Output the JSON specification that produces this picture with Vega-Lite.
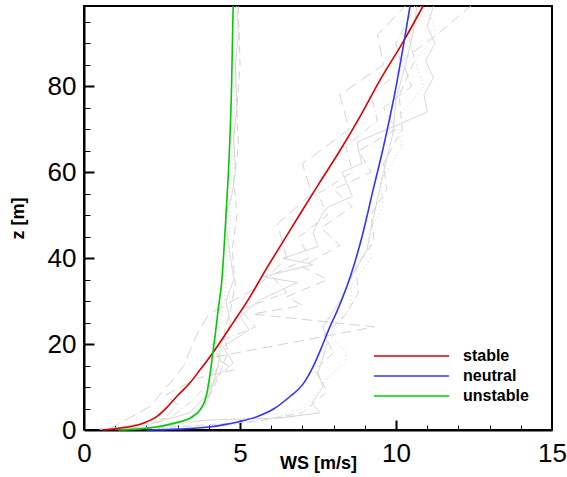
{
  "$schema": "https://vega.github.io/schema/vega-lite/v6.json",
  "width": 468,
  "height": 424,
  "autosize": {"type": "none"},
  "padding": {"left": 84, "top": 6, "right": 15, "bottom": 47},
  "background": "white",
  "config": {"view": {"stroke": "black", "strokeWidth": 2}, "font": "Liberation Sans"},
  "resolve": {"axis": {"x": "independent", "y": "independent"}},
  "datasets": {
    "main": [
      {"s":"stable","ws":0.6,"z":0},{"s":"stable","ws":1.0,"z":0.3},{"s":"stable","ws":1.5,"z":0.8},{"s":"stable","ws":1.9,"z":1.6},{"s":"stable","ws":2.33,"z":3.1},{"s":"stable","ws":2.65,"z":5.2},{"s":"stable","ws":2.97,"z":7.8},{"s":"stable","ws":3.4,"z":11},{"s":"stable","ws":3.72,"z":14},{"s":"stable","ws":4.13,"z":18},{"s":"stable","ws":4.78,"z":25},{"s":"stable","ws":5.32,"z":31},{"s":"stable","ws":5.8,"z":37},{"s":"stable","ws":6.35,"z":43.5},{"s":"stable","ws":6.9,"z":50},{"s":"stable","ws":7.5,"z":57},{"s":"stable","ws":8.2,"z":65},{"s":"stable","ws":8.85,"z":73},{"s":"stable","ws":9.5,"z":81.6},{"s":"stable","ws":10.2,"z":90},{"s":"stable","ws":10.87,"z":98.7},
      {"s":"neutral","ws":2.0,"z":0},{"s":"neutral","ws":3.0,"z":0.2},{"s":"neutral","ws":4.0,"z":0.7},{"s":"neutral","ws":4.46,"z":1.2},{"s":"neutral","ws":5.0,"z":2.0},{"s":"neutral","ws":5.54,"z":3.1},{"s":"neutral","ws":6.1,"z":5},{"s":"neutral","ws":6.6,"z":7.8},{"s":"neutral","ws":7.0,"z":10.5},{"s":"neutral","ws":7.34,"z":14.7},{"s":"neutral","ws":7.6,"z":19},{"s":"neutral","ws":7.88,"z":24},{"s":"neutral","ws":8.1,"z":27.5},{"s":"neutral","ws":8.3,"z":31},{"s":"neutral","ws":8.55,"z":36},{"s":"neutral","ws":8.91,"z":45},{"s":"neutral","ws":9.27,"z":56},{"s":"neutral","ws":9.6,"z":66},{"s":"neutral","ws":10.03,"z":81},{"s":"neutral","ws":10.25,"z":90},{"s":"neutral","ws":10.45,"z":98.7},
      {"s":"unstable","ws":1.1,"z":0},{"s":"unstable","ws":1.7,"z":0.2},{"s":"unstable","ws":2.33,"z":0.7},{"s":"unstable","ws":2.9,"z":1.6},{"s":"unstable","ws":3.4,"z":2.8},{"s":"unstable","ws":3.72,"z":4.7},{"s":"unstable","ws":3.94,"z":8.6},{"s":"unstable","ws":4.04,"z":13},{"s":"unstable","ws":4.13,"z":18},{"s":"unstable","ws":4.22,"z":23},{"s":"unstable","ws":4.3,"z":28},{"s":"unstable","ws":4.42,"z":35},{"s":"unstable","ws":4.55,"z":50},{"s":"unstable","ws":4.66,"z":65},{"s":"unstable","ws":4.73,"z":80},{"s":"unstable","ws":4.78,"z":98.7}
    ],
    "greyU": [
      {"s":"g1","ws":1.5,"z":0.3},{"s":"g1","ws":2.8,"z":1},{"s":"g1","ws":3.5,"z":3},{"s":"g1","ws":3.9,"z":6},{"s":"g1","ws":4.1,"z":10},{"s":"g1","ws":4.3,"z":15},{"s":"g1","ws":4.4,"z":20},{"s":"g1","ws":4.7,"z":25},{"s":"g1","ws":4.55,"z":30},{"s":"g1","ws":4.8,"z":35},{"s":"g1","ws":4.7,"z":40},{"s":"g1","ws":4.6,"z":45},{"s":"g1","ws":4.55,"z":50},{"s":"g1","ws":4.75,"z":55},{"s":"g1","ws":4.85,"z":60},{"s":"g1","ws":4.8,"z":68},{"s":"g1","ws":4.9,"z":75},{"s":"g1","ws":4.85,"z":85},{"s":"g1","ws":4.95,"z":92},{"s":"g1","ws":4.9,"z":98.7},
      {"s":"g2","ws":1.0,"z":0.2},{"s":"g2","ws":2.5,"z":0.8},{"s":"g2","ws":3.3,"z":2.5},{"s":"g2","ws":3.8,"z":5},{"s":"g2","ws":4.1,"z":9},{"s":"g2","ws":4.4,"z":14},{"s":"g2","ws":4.6,"z":18},{"s":"g2","ws":4.5,"z":23},{"s":"g2","ws":4.7,"z":28},{"s":"g2","ws":4.85,"z":34},{"s":"g2","ws":4.75,"z":42},{"s":"g2","ws":4.9,"z":50},{"s":"g2","ws":4.8,"z":58},{"s":"g2","ws":4.95,"z":66},{"s":"g2","ws":4.9,"z":75},{"s":"g2","ws":5.0,"z":85},{"s":"g2","ws":4.95,"z":98.7},
      {"s":"g3","ws":1.2,"z":0.2},{"s":"g3","ws":2.7,"z":0.9},{"s":"g3","ws":3.6,"z":3},{"s":"g3","ws":4.0,"z":7},{"s":"g3","ws":4.2,"z":12},{"s":"g3","ws":4.1,"z":17},{"s":"g3","ws":4.3,"z":22},{"s":"g3","ws":4.5,"z":30},{"s":"g3","ws":4.6,"z":40},{"s":"g3","ws":4.7,"z":50},{"s":"g3","ws":4.75,"z":60},{"s":"g3","ws":4.8,"z":70},{"s":"g3","ws":4.85,"z":80},{"s":"g3","ws":4.9,"z":90},{"s":"g3","ws":4.85,"z":98.7}
    ],
    "greyS": [
      {"s":"g4","ws":0.5,"z":0.2},{"s":"g4","ws":1.8,"z":0.7},{"s":"g4","ws":3.4,"z":4},{"s":"g4","ws":3.9,"z":8},{"s":"g4","ws":4.26,"z":12.4},{"s":"g4","ws":4.78,"z":15.6},{"s":"g4","ws":4.46,"z":19.4},{"s":"g4","ws":5.3,"z":23.3},{"s":"g4","ws":5.0,"z":26.5},{"s":"g4","ws":5.64,"z":30.3},{"s":"g4","ws":6.83,"z":34.3},{"s":"g4","ws":5.74,"z":35.7},{"s":"g4","ws":7.34,"z":38.5},{"s":"g4","ws":6.38,"z":40},{"s":"g4","ws":7.5,"z":42.7},{"s":"g4","ws":7.34,"z":46},{"s":"g4","ws":7.66,"z":50.6},{"s":"g4","ws":7.8,"z":51.8},{"s":"g4","ws":8.6,"z":54.4},{"s":"g4","ws":8.27,"z":60},{"s":"g4","ws":8.9,"z":62},{"s":"g4","ws":8.75,"z":67},{"s":"g4","ws":11.0,"z":74},{"s":"g4","ws":10.9,"z":78},{"s":"g4","ws":11.2,"z":82},{"s":"g4","ws":10.95,"z":86},{"s":"g4","ws":11.25,"z":90},{"s":"g4","ws":11.0,"z":94},{"s":"g4","ws":11.2,"z":98.7},
      {"s":"g5","ws":0.7,"z":0.3},{"s":"g5","ws":2.5,"z":2},{"s":"g5","ws":3.0,"z":6},{"s":"g5","ws":2.6,"z":8},{"s":"g5","ws":3.6,"z":12},{"s":"g5","ws":4.8,"z":14},{"s":"g5","ws":4.2,"z":17},{"s":"g5","ws":9.3,"z":24},{"s":"g5","ws":5.4,"z":27},{"s":"g5","ws":7.0,"z":29},{"s":"g5","ws":6.5,"z":31},{"s":"g5","ws":7.8,"z":35},{"s":"g5","ws":7.0,"z":38},{"s":"g5","ws":8.2,"z":43},{"s":"g5","ws":7.6,"z":47},{"s":"g5","ws":8.6,"z":52},{"s":"g5","ws":8.0,"z":56},{"s":"g5","ws":9.2,"z":60},{"s":"g5","ws":8.8,"z":65},{"s":"g5","ws":10.0,"z":70},{"s":"g5","ws":9.6,"z":75},{"s":"g5","ws":10.5,"z":80},{"s":"g5","ws":10.2,"z":86},{"s":"g5","ws":11.3,"z":92},{"s":"g5","ws":12.4,"z":98.7},
      {"s":"g6","ws":1.0,"z":0.3},{"s":"g6","ws":2.8,"z":3},{"s":"g6","ws":3.5,"z":7},{"s":"g6","ws":4.0,"z":11},{"s":"g6","ws":4.4,"z":16},{"s":"g6","ws":4.1,"z":20},{"s":"g6","ws":5.5,"z":24},{"s":"g6","ws":5.0,"z":28},{"s":"g6","ws":6.5,"z":32},{"s":"g6","ws":6.0,"z":36},{"s":"g6","ws":7.2,"z":40},{"s":"g6","ws":6.9,"z":45},{"s":"g6","ws":7.8,"z":50},{"s":"g6","ws":7.5,"z":55},{"s":"g6","ws":8.6,"z":60},{"s":"g6","ws":8.4,"z":66},{"s":"g6","ws":9.4,"z":72},{"s":"g6","ws":9.2,"z":78},{"s":"g6","ws":10.2,"z":84},{"s":"g6","ws":10.0,"z":90},{"s":"g6","ws":10.6,"z":98.7},
      {"s":"g7","ws":0.5,"z":0.2},{"s":"g7","ws":2.0,"z":0.6},{"s":"g7","ws":3.9,"z":2.3},{"s":"g7","ws":6.28,"z":2.8},{"s":"g7","ws":7.56,"z":4},{"s":"g7","ws":7.3,"z":6.3},{"s":"g7","ws":7.66,"z":10},{"s":"g7","ws":7.5,"z":13.3},{"s":"g7","ws":7.8,"z":20.3},{"s":"g7","ws":7.66,"z":24},{"s":"g7","ws":8.2,"z":30},{"s":"g7","ws":8.6,"z":36},{"s":"g7","ws":9.07,"z":42},{"s":"g7","ws":9.4,"z":53.6},{"s":"g7","ws":9.6,"z":60},{"s":"g7","ws":9.9,"z":69},{"s":"g7","ws":10.0,"z":77},{"s":"g7","ws":10.3,"z":85},{"s":"g7","ws":10.55,"z":92.6},{"s":"g7","ws":10.67,"z":98.7},
      {"s":"g8","ws":2.0,"z":0.3},{"s":"g8","ws":4.5,"z":1},{"s":"g8","ws":6.0,"z":2.5},{"s":"g8","ws":7.0,"z":5},{"s":"g8","ws":7.4,"z":8},{"s":"g8","ws":7.8,"z":12},{"s":"g8","ws":8.4,"z":16},{"s":"g8","ws":8.4,"z":18},{"s":"g8","ws":7.9,"z":22},{"s":"g8","ws":8.5,"z":28},{"s":"g8","ws":8.6,"z":34},{"s":"g8","ws":9.2,"z":40},{"s":"g8","ws":9.1,"z":46},{"s":"g8","ws":9.6,"z":52},{"s":"g8","ws":9.5,"z":58},{"s":"g8","ws":10.2,"z":66},{"s":"g8","ws":10.0,"z":72},{"s":"g8","ws":10.9,"z":80},{"s":"g8","ws":10.6,"z":86},{"s":"g8","ws":11.3,"z":92},{"s":"g8","ws":11.0,"z":98.7},
      {"s":"g9","ws":1.5,"z":0.2},{"s":"g9","ws":3.5,"z":1},{"s":"g9","ws":5.5,"z":2},{"s":"g9","ws":7.0,"z":4},{"s":"g9","ws":7.8,"z":9},{"s":"g9","ws":7.4,"z":14},{"s":"g9","ws":8.0,"z":18},{"s":"g9","ws":7.7,"z":22},{"s":"g9","ws":8.4,"z":27},{"s":"g9","ws":8.8,"z":32},{"s":"g9","ws":8.7,"z":38},{"s":"g9","ws":9.3,"z":44},{"s":"g9","ws":9.2,"z":50},{"s":"g9","ws":9.7,"z":56},{"s":"g9","ws":9.6,"z":62},{"s":"g9","ws":10.2,"z":70},{"s":"g9","ws":10.1,"z":78},{"s":"g9","ws":10.6,"z":86},{"s":"g9","ws":10.4,"z":92},{"s":"g9","ws":10.8,"z":98.7},
      {"s":"g10","ws":0.8,"z":0.2},{"s":"g10","ws":2.1,"z":5.4},{"s":"g10","ws":2.85,"z":11.7},{"s":"g10","ws":3.2,"z":15},{"s":"g10","ws":3.6,"z":22},{"s":"g10","ws":4.0,"z":27},{"s":"g10","ws":5.5,"z":33},{"s":"g10","ws":6.5,"z":40},{"s":"g10","ws":6.2,"z":48},{"s":"g10","ws":7.3,"z":55},{"s":"g10","ws":7.0,"z":62},{"s":"g10","ws":8.5,"z":70},{"s":"g10","ws":8.2,"z":78},{"s":"g10","ws":9.6,"z":85},{"s":"g10","ws":9.4,"z":92},{"s":"g10","ws":10.3,"z":98.7}
    ]
  },
  "layer": [
    {
      "data": {"name": "greyU"},
      "mark": {"type": "line", "strokeWidth": 1, "color": "#d3d3d3"},
      "encoding": {
        "x": {
          "field": "ws", "type": "quantitative",
          "scale": {"domain": [0, 15], "nice": false, "zero": false},
          "axis": {
            "orient": "top", "offset": -424,
            "values": [1,2,3,4,6,7,8,9,11,12,13,14],
            "ticks": true, "tickSize": 5, "tickWidth": 1, "tickColor": "black",
            "labels": false, "domain": false, "grid": false, "title": null
          }
        },
        "y": {
          "field": "z", "type": "quantitative",
          "scale": {"domain": [0, 98.7], "nice": false, "zero": false},
          "axis": {
            "orient": "right", "offset": -468,
            "values": [5,10,15,25,30,35,45,50,55,65,70,75,85,90,95],
            "ticks": true, "tickSize": 6, "tickWidth": 1, "tickColor": "black",
            "labels": false, "domain": false, "grid": false, "title": null
          }
        },
        "order": {"field": "z", "type": "quantitative"},
        "detail": {"field": "s", "type": "nominal"},
        "strokeDash": {
          "field": "s", "type": "nominal", "legend": null,
          "scale": {
            "domain": ["g1","g2","g3","g4","g5","g6","g7","g8","g9","g10"],
            "range": [[1,0],[8,5],[1,3],[1,0],[10,6],[8,3,1,3],[1,0],[1,3],[8,5],[12,6]]
          }
        }
      }
    },
    {
      "data": {"name": "greyS"},
      "mark": {"type": "line", "strokeWidth": 1, "color": "#d3d3d3"},
      "encoding": {
        "x": {
          "field": "ws", "type": "quantitative",
          "scale": {"domain": [0, 15], "nice": false, "zero": false},
          "axis": {
            "orient": "top", "offset": -424,
            "values": [5, 10],
            "ticks": true, "tickSize": 10, "tickWidth": 2, "tickColor": "black",
            "labels": false, "domain": false, "grid": false, "title": null
          }
        },
        "y": {
          "field": "z", "type": "quantitative",
          "scale": {"domain": [0, 98.7], "nice": false, "zero": false},
          "axis": {
            "orient": "right", "offset": -468,
            "values": [20, 40, 60, 80],
            "ticks": true, "tickSize": 10, "tickWidth": 2, "tickColor": "black",
            "labels": false, "domain": false, "grid": false, "title": null
          }
        },
        "order": {"field": "z", "type": "quantitative"},
        "detail": {"field": "s", "type": "nominal"},
        "strokeDash": {
          "field": "s", "type": "nominal", "legend": null,
          "scale": {
            "domain": ["g1","g2","g3","g4","g5","g6","g7","g8","g9","g10"],
            "range": [[1,0],[8,5],[1,3],[1,0],[10,6],[8,3,1,3],[1,0],[1,3],[8,5],[12,6]]
          }
        }
      }
    },
    {
      "data": {"name": "main"},
      "mark": {"type": "line", "strokeWidth": 1.6, "interpolate": "monotone"},
      "encoding": {
        "x": {
          "field": "ws", "type": "quantitative",
          "scale": {"domain": [0, 15], "nice": false, "zero": false},
          "axis": {
            "orient": "bottom",
            "values": [0, 5, 10, 15],
            "ticks": true, "tickSize": 10, "tickWidth": 0.5, "tickColor": "white",
            "domainColor": "black", "domainWidth": 2,
            "labelFontSize": 26, "labelColor": "black", "labelPadding": 0,
            "labelFlush": false, "labelOverlap": false,
            "title": "WS [m/s]", "titleFontSize": 18, "titleFontWeight": "bold", "titleColor": "black",
            "titleY": 33, "titleBaseline": "middle"
          }
        },
        "y": {
          "field": "z", "type": "quantitative",
          "scale": {"domain": [0, 98.7], "nice": false, "zero": false},
          "axis": {
            "orient": "left",
            "values": [0, 20, 40, 60, 80],
            "ticks": true, "tickSize": 10, "tickWidth": 0.5, "tickColor": "white",
            "domainColor": "black", "domainWidth": 2,
            "labelFontSize": 26, "labelColor": "black", "labelPadding": -2,
            "labelFlush": false, "labelOverlap": false,
            "title": "z [m]", "titleFontSize": 18, "titleFontWeight": "bold", "titleColor": "black",
            "titleX": -66, "titleY": 212, "titleAngle": -90, "titleBaseline": "middle", "titleAlign": "center"
          }
        },
        "order": {"field": "z", "type": "quantitative"},
        "color": {
          "field": "s", "type": "nominal",
          "scale": {"domain": ["stable", "neutral", "unstable"], "range": ["#e00000", "#3535ff", "#00cc00"]},
          "legend": {
            "orient": "none", "legendX": 316.5, "legendY": 339, "title": null,
            "symbolType": "M-3.75,0H3.75", "symbolSize": 400, "symbolStrokeWidth": 1.6,
            "labelFontSize": 16, "labelFontWeight": "bold", "labelColor": "black",
            "labelOffset": 40.5, "rowPadding": 1, "padding": 0
          }
        }
      }
    }
  ]
}
